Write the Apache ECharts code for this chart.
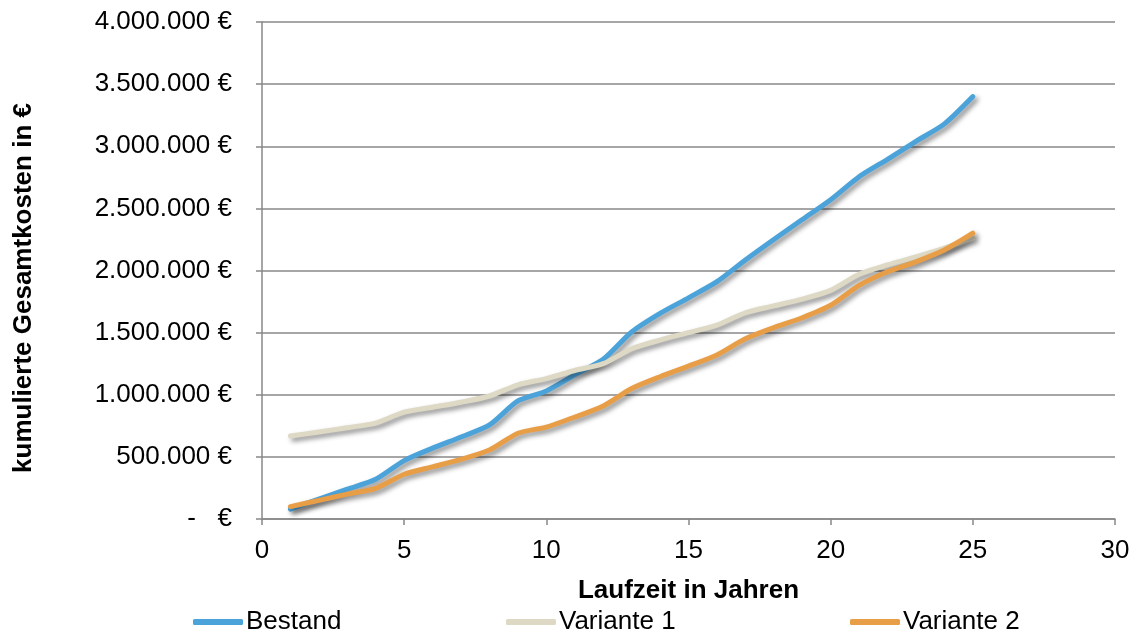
<!DOCTYPE html>
<html>
<head>
<meta charset="utf-8">
<script src="https://cdn.jsdelivr.net/npm/echarts@6/dist/echarts.min.js"></script>
<style>html,body{margin:0;padding:0;background:#fff}#c{width:1136px;height:635px}</style>
</head>
<body>
<div id="c"></div>
<script>
const years = [1,2,3,4,5,6,7,8,9,10,11,12,13,14,15,16,17,18,19,20,21,22,23,24,25];
const bestand = [80000,160000,240000,320000,470000,570000,660000,757000,950000,1030000,1160000,1285000,1505000,1655000,1780000,1910000,2085000,2250000,2410000,2570000,2755000,2895000,3040000,3180000,3400000];
const variante1 = [668000,700000,735000,772000,860000,900000,940000,990000,1080000,1130000,1195000,1250000,1370000,1440000,1500000,1560000,1660000,1715000,1770000,1840000,1970000,2045000,2110000,2180000,2260000];
const variante2 = [100000,150000,200000,247000,360000,420000,480000,555000,690000,740000,820000,910000,1050000,1145000,1230000,1320000,1450000,1540000,1620000,1720000,1880000,1990000,2070000,2165000,2300000];
const seriesNames = ['Bestand','Variante 1','Variante 2'];
const yAxisTitle = 'kumulierte Gesamtkosten in €';
const xAxisTitle = 'Laufzeit in Jahren';

const colors = ['#4BA3DA','#DDD9C4','#E89D47'];
const font = 'Liberation Sans, Arial, sans-serif';
const legendLeft = [193, 506, 850];

function pair(arr){ return years.map((y,i)=>[y,arr[i]]); }
function fmt(v){
  if (v === 0) return '-   €';
  return String(v).replace(/\B(?=(\d{3})+(?!\d))/g,'.') + ' €';
}
function mkSeries(name, data, color){
  return {
    name: name, type:'line', data: pair(data), smooth:0.25, showSymbol:false, symbol:'none',
    color: color,
    lineStyle:{width:5, color:color, cap:'round', join:'round',
      shadowColor:'rgba(0,0,0,0.45)', shadowBlur:5, shadowOffsetX:3, shadowOffsetY:3},
    emphasis:{disabled:true}
  };
}
const chart = echarts.init(document.getElementById('c'), null, {renderer:'canvas'});
chart.setOption({
  animation:false,
  backgroundColor:'#fff',
  textStyle:{fontFamily:font},
  grid:{left:262, right:21, top:22, bottom:116, containLabel:false},
  legend: seriesNames.map((n,i)=>({
    data:[{name:n, itemStyle:{color:colors[i]}}],
    left:legendLeft[i], top:609, padding:0, itemWidth:50, itemHeight:6, icon:'roundRect',
    textStyle:{fontSize:26, color:'#000', fontFamily:font, padding:[0,0,0,-2]}
  })),
  graphic:[{
    type:'text', x:24, y:288, rotation:Math.PI/2,
    style:{text:yAxisTitle, fontSize:26, fontWeight:'bold', fill:'#000', fontFamily:font,
      align:'center', verticalAlign:'middle'}
  }],
  xAxis:{
    type:'value', min:0, max:30, interval:5,
    name:xAxisTitle, nameLocation:'middle', nameGap:59,
    nameTextStyle:{fontSize:26, fontWeight:'bold', color:'#000', fontFamily:font},
    axisLine:{show:true, lineStyle:{color:'#888', width:1.5}},
    axisTick:{show:true, length:6, lineStyle:{color:'#888', width:1.5}},
    axisLabel:{fontSize:26, color:'#000', margin:19, fontFamily:font},
    splitLine:{show:false}
  },
  yAxis:{
    type:'value', min:0, max:4000000, interval:500000,
    axisLine:{show:true, lineStyle:{color:'#888', width:1.5}},
    axisTick:{show:true, length:6, lineStyle:{color:'#888', width:1.5}},
    axisLabel:{fontSize:26, color:'#000', margin:30, fontFamily:font, formatter:fmt},
    splitLine:{show:true, lineStyle:{color:'#888', width:1.5}}
  },
  series:[
    mkSeries(seriesNames[0], bestand, colors[0]),
    mkSeries(seriesNames[1], variante1, colors[1]),
    mkSeries(seriesNames[2], variante2, colors[2])
  ]
});
</script>
</body>
</html>
